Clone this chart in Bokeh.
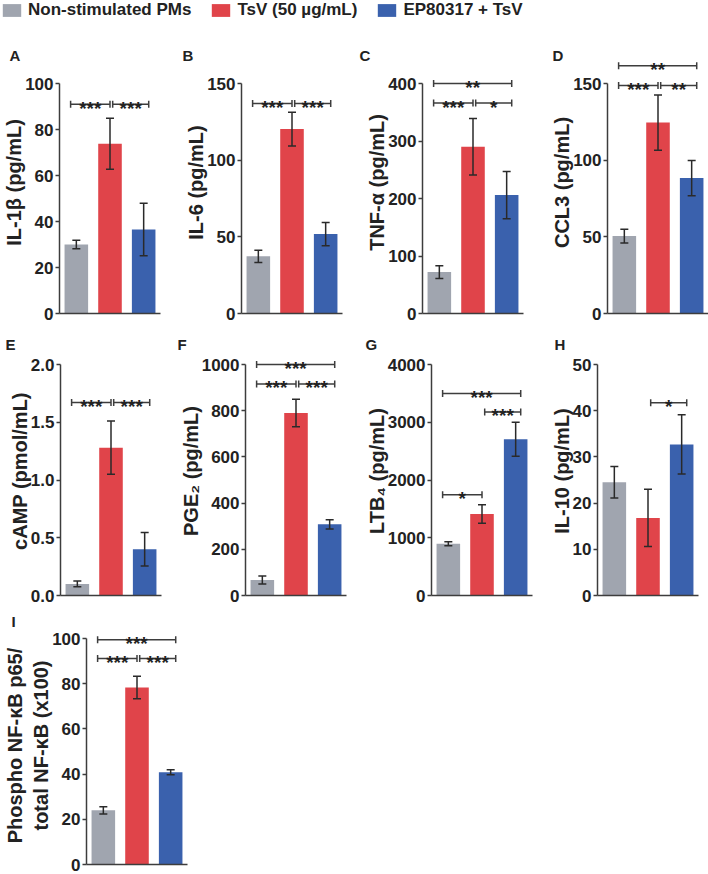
import numpy as np
from bokeh.plotting import figure
from bokeh.models import (ColumnDataSource, FixedTicker, NumeralTickFormatter,
                          Range1d, Legend, LegendItem)
from bokeh.layouts import column, row
from bokeh.embed import file_html
from bokeh.resources import INLINE
from bokeh.core.properties import value

# ---------------- data ----------------
groups = ["Non-stimulated PMs", "TsV (50 µg/mL)", "EP80317 + TsV"]
colors = ["#A0A5AF", "#E0444A", "#3A61AD"]

il1b_mean = [30.0, 73.8, 36.5]
il1b_sem = [1.9, 11.1, 11.4]
il1b_ticks = [0, 20, 40, 60, 80, 100]
il1b_sig = [(0, 1, 91.0, "***"), (1, 2, 91.0, "***")]

il6_mean = [37.3, 120.3, 51.8]
il6_sem = [4.0, 11.0, 7.6]
il6_ticks = [0, 50, 100, 150]
il6_sig = [(0, 1, 137.0, "***"), (1, 2, 137.0, "***")]

tnf_mean = [72.0, 290.0, 206.0]
tnf_sem = [11.0, 49.0, 41.0]
tnf_ticks = [0, 100, 200, 300, 400]
tnf_sig = [(0, 1, 366.0, "***"), (1, 2, 366.0, "*"), (0, 2, 400.0, "**")]

ccl3_mean = [50.5, 124.5, 88.3]
ccl3_sem = [4.5, 18.0, 11.5]
ccl3_ticks = [0, 50, 100, 150]
ccl3_sig = [(0, 1, 148.7, "***"), (1, 2, 148.7, "**"), (0, 2, 161.5, "**")]

camp_mean = [0.10, 1.28, 0.40]
camp_sem = [0.025, 0.23, 0.145]
camp_ticks = [0.0, 0.5, 1.0, 1.5, 2.0]
camp_sig = [(0, 1, 1.67, "***"), (1, 2, 1.67, "***")]

pge2_mean = [67.0, 790.0, 308.0]
pge2_sem = [17.0, 60.0, 20.0]
pge2_ticks = [0, 200, 400, 600, 800, 1000]
pge2_sig = [(0, 1, 916.0, "***"), (1, 2, 916.0, "***"), (0, 2, 1000.0, "***")]

ltb4_mean = [895.0, 1410.0, 2705.0]
ltb4_sem = [35.0, 160.0, 295.0]
ltb4_ticks = [0, 1000, 2000, 3000, 4000]
ltb4_sig = [(0, 1, 1746.0, "*"), (1, 2, 3179.0, "***"), (0, 2, 3497.0, "***")]

il10_mean = [24.5, 16.8, 32.7]
il10_sem = [3.4, 6.2, 6.4]
il10_ticks = [0, 10, 20, 30, 40, 50]
il10_sig = [(1, 2, 41.7, "*")]

nfkb_mean = [24.0, 78.3, 40.8]
nfkb_sem = [1.6, 5.0, 1.1]
nfkb_ticks = [0, 20, 40, 60, 80, 100]
nfkb_sig = [(0, 1, 91.2, "***"), (1, 2, 91.2, "***"), (0, 2, 99.4, "***")]

# ---------------- style ----------------
FONT = "Liberation Sans"
AXC = "#3d3d3d"
ERRC = "#2a2a2a"
TXT = "#222222"
FW = 101


def panel(letter, ylabel, means, sems, ticks, sig, fh, span, left, right,
          top, bottom, letter_drop, letter_dx, fmt=None):
    ymax = ticks[-1]
    p = figure(frame_width=FW, frame_height=fh,
               x_range=Range1d(0, len(groups)),
               y_range=Range1d(0, ymax * fh / span),
               output_backend="svg", toolbar_location=None,
               min_border_left=left, min_border_right=right,
               min_border_top=top, min_border_bottom=bottom,
               title=letter)
    p.grid.visible = False
    p.outline_line_color = None
    p.background_fill_color = "white"
    p.border_fill_color = "white"

    # panel letter (title, shifted into the left margin)
    t = p.title
    t.align = "left"
    t.vertical_align = "bottom"
    t.offset = letter_dx
    t.standoff = -2 * (letter_drop + 3)
    t.text_font = FONT
    t.text_font_style = "bold"
    t.text_font_size = "15px"
    t.text_color = TXT

    m = np.array(means, dtype=float)
    s = np.array(sems, dtype=float)
    xs = np.arange(len(groups)) + 0.5
    src = ColumnDataSource(dict(x=xs, top=m, lo=m - s, hi=m + s, color=colors))
    p.vbar(x="x", top="top", width=0.7, fill_color="color", line_color=None,
           source=src)
    p.segment(x0="x", y0="lo", x1="x", y1="hi", line_color=ERRC,
              line_width=1.5, source=src)
    p.scatter(x="x", y="hi", marker="dash", size=8, line_color=ERRC,
              line_width=1.5, source=src)
    p.scatter(x="x", y="lo", marker="dash", size=8, line_color=ERRC,
              line_width=1.5, source=src)

    # significance brackets
    x0s, x1s, ys, labs = [], [], [], []
    for i, j, yv, lab in sig:
        a = xs[i] - (0.17 if i == 0 else -0.08)
        b = xs[j] + (0.15 if j == len(groups) - 1 else 0.0)
        x0s.append(a); x1s.append(b); ys.append(yv); labs.append(lab)
    bsrc = ColumnDataSource(dict(x0=x0s, x1=x1s, y=ys, lab=labs,
                                 xm=[(a + b) / 2 for a, b in zip(x0s, x1s)]))
    p.segment(x0="x0", y0="y", x1="x1", y1="y", line_color=AXC,
              line_width=1.5, source=bsrc)
    p.scatter(x="x0", y="y", marker="dash", angle=np.pi / 2, size=7,
              line_color=AXC, line_width=1.5, source=bsrc)
    p.scatter(x="x1", y="y", marker="dash", angle=np.pi / 2, size=7,
              line_color=AXC, line_width=1.5, source=bsrc)
    p.text(x="xm", y="y", text="lab", text_font=value(FONT),
           text_font_style="bold", text_font_size="19px", text_color=TXT,
           text_align="center", text_baseline="alphabetic", y_offset=4,
           source=bsrc)

    # y axis
    ya = p.yaxis[0]
    ya.ticker = FixedTicker(ticks=ticks)
    ya.bounds = (0, ymax)
    if fmt:
        ya.formatter = NumeralTickFormatter(format=fmt)
    ya.axis_line_color = AXC
    ya.axis_line_width = 1.5
    ya.major_tick_line_color = AXC
    ya.major_tick_line_width = 1.5
    ya.major_tick_out = 4
    ya.major_tick_in = 0
    ya.minor_tick_line_color = None
    ya.major_label_text_font = FONT
    ya.major_label_text_font_style = "bold"
    ya.major_label_text_font_size = "17px"
    ya.major_label_text_color = TXT
    ya.major_label_standoff = 2
    ya.axis_label = ylabel
    ya.axis_label_text_font = FONT
    ya.axis_label_text_font_style = "bold"
    ya.axis_label_text_font_size = "20px"
    ya.axis_label_text_color = TXT
    ya.axis_label_standoff = -3

    # x axis (line only)
    xa = p.xaxis[0]
    xa.ticker = FixedTicker(ticks=[])
    xa.axis_line_color = AXC
    xa.axis_line_width = 1.5
    xa.major_tick_out = 0
    xa.major_tick_in = 0
    xa.minor_tick_out = 0
    xa.minor_tick_in = 0
    xa.major_label_text_font_size = "0px"
    xa.major_label_standoff = 0
    return p


# ---------------- legend strip ----------------
lp = figure(width=700, height=21, x_range=Range1d(0, 1), y_range=Range1d(0, 1),
            x_axis_location=None, y_axis_location=None,
            output_backend="svg", toolbar_location=None, min_border=0)
lp.grid.visible = False
lp.outline_line_color = None
items = []
for g, c in zip(groups, colors):
    r = lp.vbar(x=[0.5], top=[0.0], bottom=[0.0], width=0.01, fill_color=c,
                line_color=None)
    items.append(LegendItem(label=g, renderers=[r]))
leg = Legend(items=items, location="top_left", orientation="horizontal",
             glyph_width=23, glyph_height=16, label_standoff=5, spacing=18,
             padding=0, margin=0, label_height=16,
             label_text_font=FONT, label_text_font_style="bold",
             label_text_font_size="17px", label_text_color=TXT,
             border_line_color=None, background_fill_alpha=0)
lp.add_layout(leg, "left")

# ---------------- panels ----------------
R1 = dict(fh=262, span=230, top=30, bottom=13, letter_drop=9)
pA = panel("A", "IL-1β (pg/mL)", il1b_mean, il1b_sem, il1b_ticks, il1b_sig,
           left=57, right=21, letter_dx=-50, **R1)
pB = panel("B", "IL-6 (pg/mL)", il6_mean, il6_sem, il6_ticks, il6_sig,
           left=60, right=16, letter_dx=-59, **R1)
pC = panel("C", "TNF-α (pg/mL)", tnf_mean, tnf_sem, tnf_ticks, tnf_sig,
           left=64, right=25, letter_dx=-63, **R1)
pD = panel("D", "CCL3 (pg/mL)", ccl3_mean, ccl3_sem, ccl3_ticks, ccl3_sig,
           left=56, right=2, letter_dx=-55, **R1)

R2 = dict(fh=249, span=231, top=20, bottom=11, letter_drop=3)
pE = panel("E", "cAMP (pmol/mL)", camp_mean, camp_sem, camp_ticks, camp_sig,
           left=60, right=15, letter_dx=-55, fmt="0.0", **R2)
pF = panel("F", "PGE₂ (pg/mL)", pge2_mean, pge2_sem, pge2_ticks, pge2_sig,
           left=69, right=16, letter_dx=-68, **R2)
pG = panel("G", "LTB₄ (pg/mL)", ltb4_mean, ltb4_sem, ltb4_ticks, ltb4_sig,
           left=67, right=15, letter_dx=-66, **R2)
pH = panel("H", "IL-10 (pg/mL)", il10_mean, il10_sem, il10_ticks, il10_sig,
           left=45, right=8, letter_dx=-43, **R2)

R3 = dict(fh=238, span=226, top=20, bottom=9, letter_drop=0)
pI = panel("I", "Phospho NF-κB p65/\ntotal NF-κB (x100)", nfkb_mean, nfkb_sem,
           nfkb_ticks, nfkb_sig, left=80, right=10, letter_dx=-75, **R3)

layout = column(row(lp), row(pA, pB, pC, pD), row(pE, pF, pG, pH), row(pI))

open("out.html", "w").write(file_html(layout, INLINE))
